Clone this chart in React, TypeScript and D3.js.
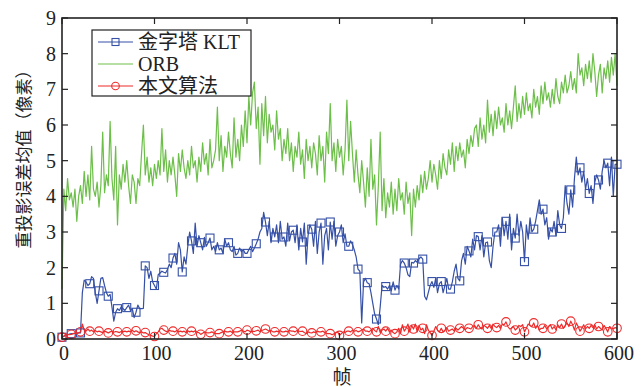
import * as d3 from "d3";
import React, { useEffect, useRef } from "react";

const FRAME_STEP = 2;

const orb = [
  1.4, 4.2, 3.6, 4.5, 3.9, 4.1, 3.7, 4.2, 3.3, 4.0,
  4.3, 3.8, 4.7, 4.0, 4.6, 3.9, 5.4, 4.2, 4.0, 4.4,
  3.7, 4.3, 5.8, 4.1, 4.6, 4.3, 6.1, 4.5, 3.9, 5.4,
  3.2, 4.6, 4.2, 4.9, 4.4, 5.0, 4.3, 3.8, 4.6, 4.4,
  3.8, 4.5, 4.3, 5.2, 6.0, 4.6, 5.1, 4.4, 4.8, 4.3,
  4.9, 4.5, 5.0, 4.6, 5.9, 4.7, 5.3, 4.4, 5.0, 4.6,
  5.1, 4.6, 4.0, 5.2, 4.7, 5.3, 4.8, 4.5, 5.0, 4.6,
  5.4, 4.8, 5.0, 4.4, 5.1, 4.7, 5.5, 4.9, 5.2, 4.6,
  5.6, 4.8, 5.0, 5.3, 6.5, 5.0, 5.7, 4.7, 5.4, 5.1,
  5.8, 5.2, 4.8, 6.2, 5.1, 5.6, 5.0, 6.0, 5.4, 6.4,
  5.5, 6.8, 6.0, 6.9, 7.2, 5.9, 6.5, 4.9, 6.6, 5.7,
  6.8, 5.5, 6.3, 5.8, 6.0, 5.3, 6.4, 5.6, 5.9, 5.0,
  5.6, 5.2, 5.9, 5.0, 5.5, 4.7, 5.4, 5.1, 5.8, 4.9,
  5.3, 4.5, 5.6, 5.0, 5.4, 4.8, 5.5, 5.2, 4.6, 5.7,
  5.0, 5.4, 4.4, 5.8, 5.2, 6.6, 5.0, 5.5, 4.7, 5.6,
  5.1, 5.4, 4.6, 5.3, 6.7, 5.0, 6.1, 5.2, 4.4, 5.3,
  4.6, 4.1, 5.0, 4.4, 3.7, 4.8, 4.0, 5.6, 4.2, 4.6,
  3.2, 4.3, 5.8, 3.6, 4.5, 3.4, 4.1, 3.7, 4.4, 3.5,
  4.2, 3.6, 4.5, 3.9, 4.1, 3.5, 4.4, 3.8, 4.1, 2.9,
  4.2, 3.7, 4.3, 3.9, 4.6, 4.1, 4.7, 4.2, 4.5, 5.0,
  4.4, 4.9, 4.6, 4.2, 5.0, 4.5, 5.2, 4.8, 4.6, 5.3,
  4.9, 5.5, 4.7, 5.4, 5.0, 5.5, 5.1, 5.3, 4.8, 5.6,
  5.2, 5.7, 5.4, 5.9, 6.0, 5.4, 6.2, 5.6, 6.0, 5.5,
  6.7, 5.8, 6.3, 5.7, 6.4, 5.9, 6.5, 6.0, 6.2, 5.8,
  6.6, 6.0, 6.4, 5.9, 6.5, 7.1, 6.1, 6.6, 6.2, 6.8,
  6.3, 6.9, 6.4, 6.6, 6.2, 7.0, 6.5, 6.8, 6.3, 7.1,
  6.6, 7.2, 6.7, 6.9, 6.5, 7.0, 6.6, 7.3, 6.8, 6.6,
  7.2, 6.9, 7.4, 6.9, 7.1, 7.5, 7.0, 7.3, 6.9, 8.0,
  7.4, 7.6, 7.1, 7.7, 7.3, 7.8, 7.2, 8.0, 7.5, 6.8,
  7.4, 7.7, 6.9, 7.6, 7.3, 7.8, 7.2, 7.9, 7.4, 8.0,
  7.1,
];

const klt = [
  0.05, 0.08, 0.1, 0.12, 0.14, 0.15, 0.15, 0.16, 0.16, 0.17,
  0.17, 1.3, 1.65, 1.6, 1.5, 1.55, 1.75, 1.7, 1.3, 1.0,
  1.35, 1.7, 1.72, 1.5, 1.3, 1.2, 1.25, 0.9, 0.5, 0.75,
  0.85, 0.8, 0.9, 0.85, 0.8, 0.88, 0.95, 0.8, 0.85, 0.6,
  0.75, 0.95, 0.85, 0.85, 0.86, 2.05, 2.0, 1.7, 1.9, 1.6,
  1.5, 1.4, 1.8, 1.85, 1.9, 1.87, 1.85, 1.95, 2.1, 2.0,
  2.27, 2.4, 2.1, 2.7, 2.5, 1.88, 2.3, 2.1, 2.6, 3.0,
  2.75, 2.4, 3.25, 2.6, 2.9, 2.7, 2.5, 2.85, 2.6, 2.7,
  2.83, 2.5, 2.6, 2.45, 2.7, 2.5, 2.55, 2.4, 2.8, 2.6,
  2.7, 2.5, 2.45, 2.6, 2.35, 2.4, 2.55, 2.45, 2.5, 2.4,
  2.4, 2.5, 2.6, 2.45, 2.55, 2.67, 2.8, 3.0, 3.1, 3.55,
  3.28, 2.9, 3.3, 2.7, 3.1, 2.86, 3.2, 2.7, 3.3, 2.8,
  2.86, 2.6, 3.25, 2.75, 3.0, 3.05, 2.7, 3.2, 2.5, 3.1,
  2.72, 3.25, 2.1, 2.9, 3.2, 3.08, 2.6, 3.3, 2.4, 3.0,
  3.25, 2.1, 2.9, 3.1, 2.5, 3.28, 2.8, 3.3, 2.6, 2.9,
  3.0, 3.2, 2.7, 2.95, 2.6, 2.6, 2.75, 2.65, 2.5, 2.3,
  1.96, 1.9, 0.45, 1.6, 1.7, 1.58, 1.55, 1.3, 1.0, 0.7,
  0.56, 0.4, 0.9, 1.5, 1.45, 1.47, 1.4, 1.5, 1.35, 1.6,
  1.37, 1.5, 1.4, 2.1, 2.2, 2.13, 2.0, 1.8, 1.75, 2.15,
  2.13, 2.2, 2.15, 2.25, 2.3, 2.24, 1.2, 1.1, 1.3, 1.5,
  1.61, 1.45, 1.7, 1.3, 1.55, 1.61, 1.3, 1.5, 1.7, 1.4,
  1.4, 1.6, 1.9, 2.1, 1.7, 1.63, 2.2, 2.4, 2.1, 2.6,
  2.47, 2.3, 2.8, 2.5, 2.9, 2.87, 2.5, 2.9, 2.3, 2.7,
  2.72, 2.2, 2.0, 2.6, 3.0, 3.0, 3.2, 2.6, 3.4, 2.9,
  3.3, 2.8, 3.5, 2.5, 3.1, 2.83, 3.5, 2.9, 3.3, 3.0,
  2.17, 3.2, 2.8, 3.4, 3.0, 3.08, 3.3, 3.6, 3.9, 3.5,
  3.64, 3.2, 3.4, 2.8, 3.1, 3.0, 3.3, 2.9, 3.6, 3.2,
  3.1, 3.4, 4.3, 3.8, 3.5, 4.18, 3.7, 4.5, 5.1, 4.6,
  4.8, 4.4, 4.7, 4.2, 4.5, 4.08, 4.3, 3.8, 4.4, 4.6,
  4.46, 4.2, 4.7, 5.0, 4.8, 4.93, 4.3, 5.1, 4.0, 4.9,
  4.9,
];

const ours = [
  0.05, 0.08, 0.1, 0.12, 0.12, 0.13, 0.15, 0.16, 0.17, 0.17,
  0.2, 0.42, 0.25, 0.22, 0.28, 0.22, 0.25, 0.2, 0.24, 0.2,
  0.22, 0.2, 0.18, 0.22, 0.2, 0.17, 0.2, 0.22, 0.19, 0.21,
  0.2, 0.18, 0.21, 0.2, 0.22, 0.2, 0.22, 0.2, 0.25, 0.2,
  0.23, 0.2, 0.18, 0.2, 0.17, 0.18, 0.15, 0.12, 0.1, 0.08,
  0.07, 0.15, 0.2, 0.28, 0.3, 0.25, 0.22, 0.2, 0.25, 0.22,
  0.22, 0.2, 0.24, 0.2, 0.22, 0.2, 0.22, 0.18, 0.23, 0.2,
  0.22, 0.2, 0.23, 0.19, 0.18, 0.13, 0.16, 0.2, 0.18, 0.17,
  0.18, 0.2, 0.17, 0.15, 0.15, 0.15, 0.18, 0.2, 0.22, 0.2,
  0.2, 0.22, 0.18, 0.2, 0.2, 0.2, 0.22, 0.25, 0.22, 0.2,
  0.25, 0.23, 0.2, 0.22, 0.21, 0.23, 0.25, 0.2, 0.24, 0.26,
  0.28, 0.25, 0.22, 0.24, 0.2, 0.2, 0.22, 0.2, 0.23, 0.2,
  0.2, 0.22, 0.2, 0.24, 0.22, 0.22, 0.2, 0.24, 0.22, 0.21,
  0.22, 0.18, 0.15, 0.2, 0.18, 0.17, 0.2, 0.18, 0.22, 0.2,
  0.2, 0.22, 0.18, 0.16, 0.15, 0.15, 0.12, 0.15, 0.18, 0.2,
  0.1, 0.15, 0.2, 0.18, 0.22, 0.22, 0.2, 0.25, 0.22, 0.24,
  0.2, 0.22, 0.25, 0.28, 0.22, 0.22, 0.2, 0.25, 0.3, 0.24,
  0.2, 0.35, 0.18, 0.25, 0.28, 0.22, 0.3, 0.2, 0.25, 0.18,
  0.15, 0.2, 0.3, 0.15, 0.4, 0.22, 0.3, 0.42, 0.2, 0.38,
  0.28, 0.42, 0.2, 0.38, 0.25, 0.3, 0.15, 0.4, 0.25, 0.18,
  0.1, 0.22, 0.35, 0.25, 0.2, 0.3, 0.2, 0.25, 0.32, 0.22,
  0.25, 0.28, 0.22, 0.3, 0.25, 0.3, 0.35, 0.3, 0.26, 0.32,
  0.3, 0.28, 0.35, 0.38, 0.3, 0.4, 0.32, 0.28, 0.38, 0.35,
  0.3, 0.38, 0.3, 0.42, 0.35, 0.32, 0.38, 0.3, 0.42, 0.4,
  0.48, 0.35, 0.28, 0.3, 0.35, 0.25, 0.3, 0.38, 0.35, 0.4,
  0.2, 0.3, 0.42, 0.38, 0.35, 0.45, 0.3, 0.38, 0.25, 0.3,
  0.3, 0.38, 0.28, 0.35, 0.4, 0.28, 0.35, 0.25, 0.4, 0.32,
  0.42, 0.3, 0.38, 0.45, 0.35, 0.5, 0.4, 0.25, 0.45, 0.35,
  0.22, 0.3, 0.4, 0.28, 0.35, 0.3, 0.38, 0.32, 0.4, 0.28,
  0.35, 0.3, 0.25, 0.38, 0.3, 0.2, 0.35, 0.3, 0.28, 0.32,
  0.3,
];

const xTicks = [0, 100, 200, 300, 400, 500, 600];
const yTicks = [0, 1, 2, 3, 4, 5, 6, 7, 8, 9];
const legendNames = ["金字塔 KLT", "ORB", "本文算法"];

const BLUE = "#3550a6";
const GREEN = "#6cbf48";
const RED = "#ee2b2b";
const FONT = "'Liberation Serif', 'Noto Sans CJK SC', serif";

export default function App() {
  const svgRef = useRef<SVGSVGElement | null>(null);

  useEffect(() => {
    const width = 643, height = 387;
    const svg = d3.select(svgRef.current);
    svg.selectAll("*").remove();

    const margin = { top: 18, right: 26, bottom: 48, left: 62 };
    const w = width - margin.left - margin.right;
    const h = height - margin.top - margin.bottom;

    const x = d3.scaleLinear().domain([0, 600]).range([0, w]);
    const y = d3.scaleLinear().domain([0, 9]).range([h, 0]);

    const root = svg.append("g").attr("transform", `translate(${margin.left},${margin.top})`);

    const line = d3.line<number>()
      .x((_, i) => x(i * FRAME_STEP))
      .y(d => y(d));

    const plot = root.append("g");

    // KLT
    plot.append("path").datum(klt)
      .attr("fill", "none").attr("stroke", BLUE).attr("stroke-width", 1.2)
      .attr("stroke-linejoin", "round").attr("d", line);
    plot.append("g").selectAll("rect")
      .data(klt.map((v, i) => ({ v, i })).filter(d => d.i % 5 === 0))
      .join("rect")
      .attr("x", d => x(d.i * FRAME_STEP) - 4)
      .attr("y", d => y(d.v) - 4)
      .attr("width", 8).attr("height", 8)
      .attr("fill", "none").attr("stroke", BLUE).attr("stroke-width", 1.1);

    // ORB
    plot.append("path").datum(orb)
      .attr("fill", "none").attr("stroke", GREEN).attr("stroke-width", 1.2)
      .attr("stroke-linejoin", "round").attr("d", line);

    // ours
    plot.append("path").datum(ours)
      .attr("fill", "none").attr("stroke", RED).attr("stroke-width", 1.2)
      .attr("stroke-linejoin", "round").attr("d", line);
    plot.append("g").selectAll("circle")
      .data(ours.map((v, i) => ({ v, i })).filter(d => d.i % 5 === 0))
      .join("circle")
      .attr("cx", d => x(d.i * FRAME_STEP))
      .attr("cy", d => y(d.v))
      .attr("r", 4.3)
      .attr("fill", "none").attr("stroke", RED).attr("stroke-width", 1.1);

    // frame + inward ticks
    const axisColor = "#222";
    root.append("rect").attr("x", 0).attr("y", 0).attr("width", w).attr("height", h)
      .attr("fill", "none").attr("stroke", axisColor).attr("stroke-width", 1.6);

    const tl = 6;
    xTicks.forEach(t => {
      root.append("line").attr("x1", x(t)).attr("x2", x(t)).attr("y1", h).attr("y2", h - tl)
        .attr("stroke", axisColor).attr("stroke-width", 1.2);
      root.append("line").attr("x1", x(t)).attr("x2", x(t)).attr("y1", 0).attr("y2", tl)
        .attr("stroke", axisColor).attr("stroke-width", 1.2);
      root.append("text").attr("x", x(t) + 2).attr("y", h + 21)
        .attr("text-anchor", "middle").attr("font-family", FONT).attr("font-size", 20)
        .attr("fill", "#222").text(t);
    });
    yTicks.forEach(t => {
      root.append("line").attr("x1", 0).attr("x2", tl).attr("y1", y(t)).attr("y2", y(t))
        .attr("stroke", axisColor).attr("stroke-width", 1.2);
      root.append("line").attr("x1", w).attr("x2", w - tl).attr("y1", y(t)).attr("y2", y(t))
        .attr("stroke", axisColor).attr("stroke-width", 1.2);
      root.append("text").attr("x", -6).attr("y", y(t)).attr("dy", "0.35em")
        .attr("text-anchor", "end").attr("font-family", FONT).attr("font-size", 20)
        .attr("fill", "#222").text(t);
    });

    // axis titles
    svg.append("text")
      .attr("transform", `translate(24,155) rotate(-90)`)
      .attr("text-anchor", "middle").attr("dy", "0.35em")
      .attr("font-family", FONT).attr("font-size", 17).attr("fill", "#222")
      .text("重投影误差均值（像素）");
    svg.append("text")
      .attr("x", 342).attr("y", 384)
      .attr("text-anchor", "middle")
      .attr("font-family", FONT).attr("font-size", 19).attr("fill", "#222")
      .text("帧");

    // legend
    const lg = svg.append("g").attr("transform", "translate(92,30)");
    lg.append("rect").attr("width", 159).attr("height", 66)
      .attr("fill", "white").attr("stroke", "#222").attr("stroke-width", 1.2);
    const colors = [BLUE, GREEN, RED];
    legendNames.forEach((name, i) => {
      const cy = 12 + i * 22;
      lg.append("line").attr("x1", 6).attr("x2", 41).attr("y1", cy).attr("y2", cy)
        .attr("stroke", colors[i]).attr("stroke-width", 1.2);
      if (i === 0) {
        lg.append("rect").attr("x", 23.5 - 3.5).attr("y", cy - 3.5).attr("width", 7).attr("height", 7)
          .attr("fill", "none").attr("stroke", BLUE).attr("stroke-width", 1.1);
      }
      if (i === 2) {
        lg.append("circle").attr("cx", 23.5).attr("cy", cy).attr("r", 3.8)
          .attr("fill", "none").attr("stroke", RED).attr("stroke-width", 1.1);
      }
      lg.append("text").attr("x", 46).attr("y", cy).attr("dy", "0.36em")
        .attr("font-family", FONT).attr("font-size", 20).attr("fill", "#222")
        .text(name);
    });
  }, []);

  return (
    <svg
      ref={svgRef}
      width={643}
      height={387}
      style={{ position: "absolute", left: 0, top: 0, background: "white" }}
    />
  );
}
